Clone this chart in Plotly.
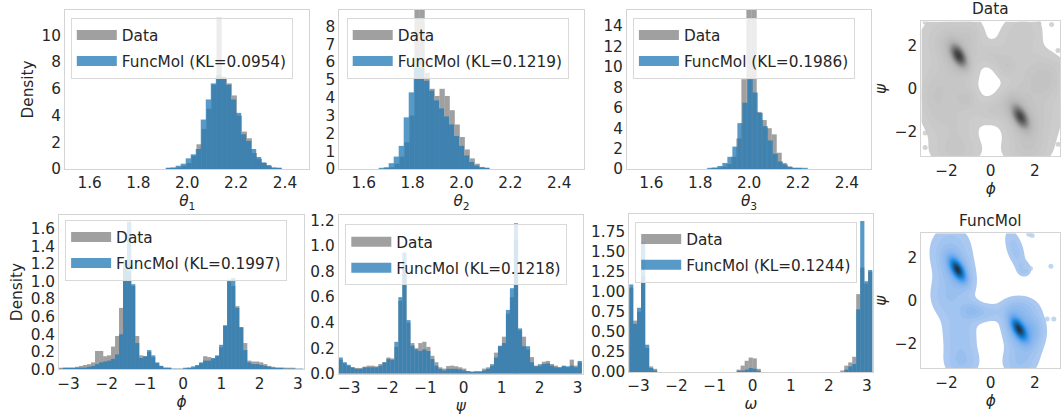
import numpy as np
import plotly.graph_objects as go

W, H = 1061, 416
FONT = "DejaVu Sans"
FS = 15.3
TXT = "#262626"
FRAME = "#d4d4d4"
GRAY = "rgb(128,128,128)"
BLUE = "rgb(31,119,180)"
ALPHA = 0.75

# ---------------- bond-angle histograms (top row) ----------------
# theta_1
t1_data_start, t1_func_start, t1_width = 1.9149, 1.9121, 0.02053
t1_data = [0.03, 0.06, 0.12, 0.25, 0.45, 1.0, 1.85, 3.0, 4.5, 6.3, 11.3, 6.8,
           6.4, 5.5, 4.0, 2.8, 2.3, 1.2, 0.75, 0.45, 0.22, 0.1, 0.04]
t1_func = [0.05, 0.12, 0.25, 0.4, 0.8, 1.1, 1.5, 3.7, 5.2, 6.4, 7.0, 6.9,
           6.3, 5.2, 4.2, 2.6, 2.1, 1.5, 0.9, 0.5, 0.3, 0.12, 0.05]
# theta_2
t2_data_start, t2_func_start, t2_width = 1.6645, 1.6615, 0.0205
t2_data = [0.01, 0.03, 0.1, 0.3, 0.7, 1.5, 3.0, 9.5, 9.2, 5.4, 4.5, 4.1,
           4.5, 4.1, 3.3, 2.5, 1.8, 1.1, 0.6, 0.3, 0.12, 0.05]
t2_func = [0.03, 0.1, 0.33, 0.7, 1.3, 2.9, 4.3, 5.67, 5.67, 4.95, 4.4, 3.85,
           3.4, 2.95, 2.5, 1.85, 1.3, 0.76, 0.4, 0.2, 0.09, 0.04]
# theta_3
t3_data_start, t3_func_start, t3_width = 1.8256, 1.8297, 0.0205
t3_data = [0.02, 0.05, 0.1, 0.25, 0.5, 1.2, 3.0, 8.8, 16.0, 16.0, 5.6, 4.8,
           4.0, 3.4, 1.6, 0.6, 0.25, 0.1, 0.04]
t3_func = [0.05, 0.15, 0.3, 0.6, 1.2, 2.2, 4.5, 6.5, 8.8, 7.5, 5.5, 4.2,
           2.8, 1.5, 0.75, 0.45, 0.22, 0.12, 0.06, 0.03]

# ---------------- torsion histograms (bottom row) ----------------
tor_width = 0.1047
phi_start = -3.245
phi_data = [0.01, 0.01, 0.015, 0.02, 0.03, 0.04, 0.05, 0.06, 0.08, 0.21, 0.21, 0.15,
            0.16, 0.26, 0.38, 0.7, 1.24, 1.1, 0.95, 0.38, 0.16, 0.15, 0.2, 0.14,
            0.07, 0.04, 0.02, 0.01, 0.005, 0.003, 0.003, 0.005, 0.01, 0.02, 0.04, 0.07,
            0.15, 0.14, 0.12, 0.15, 0.25, 0.5, 1.0, 0.95, 0.72, 0.48, 0.3, 0.1,
            0.09, 0.09, 0.08, 0.06, 0.04, 0.03, 0.02, 0.015, 0.02, 0.015, 0.01, 0.005, 0.003]
phi_func = [0.005, 0.01, 0.01, 0.01, 0.015, 0.02, 0.02, 0.03, 0.04, 0.06, 0.08, 0.09,
            0.1, 0.12, 0.17, 0.4, 1.15, 1.68, 0.97, 0.3, 0.13, 0.15, 0.22, 0.16,
            0.08, 0.04, 0.02, 0.01, 0.005, 0.004, 0.004, 0.01, 0.02, 0.035, 0.05, 0.08,
            0.1, 0.1, 0.13, 0.16, 0.28, 0.5, 1.02, 1.04, 0.7, 0.48, 0.22, 0.08,
            0.06, 0.06, 0.05, 0.04, 0.03, 0.02, 0.01, 0.01, 0.005, 0.005, 0.003, 0.002, 0.001]
psi_start = -3.28
psi_data = [0.11, 0.08, 0.06, 0.05, 0.045, 0.045, 0.055, 0.063, 0.063, 0.058, 0.076, 0.09,
            0.127, 0.12, 0.21, 0.57, 0.85, 0.4, 0.24, 0.2, 0.24, 0.25, 0.21, 0.14,
            0.09, 0.05, 0.04, 0.06, 0.063, 0.058, 0.05, 0.04, 0.02, 0.013, 0.018, 0.018,
            0.04, 0.05, 0.076, 0.165, 0.22, 0.29, 0.47, 0.6, 1.05, 0.34, 0.29, 0.19,
            0.13, 0.063, 0.076, 0.094, 0.1, 0.076, 0.063, 0.05, 0.058, 0.05, 0.11, 0.063, 0.089]
psi_func = [0.127, 0.09, 0.07, 0.05, 0.038, 0.038, 0.05, 0.05, 0.05, 0.05, 0.063, 0.089,
            0.114, 0.108, 0.25, 0.6, 0.95, 0.42, 0.22, 0.19, 0.178, 0.19, 0.178, 0.114,
            0.063, 0.038, 0.025, 0.038, 0.038, 0.038, 0.033, 0.025, 0.02, 0.013, 0.018, 0.018,
            0.025, 0.038, 0.063, 0.127, 0.215, 0.24, 0.5, 0.67, 1.18, 0.355, 0.215, 0.215,
            0.089, 0.058, 0.063, 0.076, 0.08, 0.063, 0.05, 0.05, 0.063, 0.058, 0.063, 0.05, 0.1]
omega_start = -3.245
omega_data = [1.05, 0.64, 0.75, 1.2, 0.3, 0.07, 0.04, 0, 0, 0, 0, 0,
              0, 0, 0, 0, 0, 0, 0, 0, 0, 0, 0, 0,
              0, 0, 0, 0.03, 0.08, 0.14, 0.18, 0.17, 0.04, 0, 0, 0,
              0, 0, 0, 0, 0, 0, 0, 0, 0, 0, 0, 0,
              0, 0, 0, 0, 0, 0.02, 0.08, 0.12, 0.19, 0.97, 1.3, 1.1, 1.25]
omega_func = [1.09, 0.6, 0.8, 1.62, 0.34, 0.05, 0.02, 0, 0, 0, 0, 0,
              0, 0, 0, 0, 0, 0, 0, 0, 0, 0, 0, 0,
              0, 0, 0, 0.005, 0.01, 0.03, 0.05, 0.04, 0.01, 0, 0, 0,
              0, 0, 0, 0, 0, 0, 0, 0, 0, 0, 0, 0,
              0, 0, 0, 0, 0, 0, 0.03, 0.07, 0.1, 0.78, 1.88, 1.13, 1.27]

kl_values = ["0.0954", "0.1219", "0.1986", "0.1997", "0.1218", "0.1244"]

# ---------------- Ramachandran density (phi, psi) ----------------
# blob centre, spread, correlation and peak height
data_blob_phi = [-1.45, 1.35, -1.50, 1.35, -2.00, -0.90, -2.10, -1.60, -1.60, -2.60,
                 -1.10, 0.00, 1.90, 1.60, 2.00, 2.60, 0.90, 0.70, 1.35, 0.00]
data_blob_psi = [1.55, -1.30, 1.50, -1.30, 2.20, 2.50, 0.20, -1.60, -2.90, -0.80,
                 -0.45, -1.00, -1.50, -2.90, 0.40, 0.60, -0.60, 1.05, 2.50, 1.60]
data_blob_sphi = [0.25, 0.25, 0.50, 0.50, 0.90, 0.40, 0.80, 0.70, 0.80, 0.50,
                  0.35, 0.50, 0.90, 0.70, 0.80, 0.60, 0.40, 0.35, 0.70, 0.45]
data_blob_spsi = [0.35, 0.35, 0.70, 0.70, 0.90, 0.60, 0.70, 0.80, 0.50, 0.80,
                  0.35, 0.40, 0.90, 0.50, 0.80, 0.70, 0.40, 0.35, 0.80, 0.35]
data_blob_rho = [-0.5, -0.5, -0.4, -0.4, 0.0, 0.0, 0.0, 0.0, 0.0, 0.0,
                 0.0, 0.0, 0.0, 0.0, 0.0, 0.0, 0.0, 0.0, 0.2, 0.0]
data_blob_amp = [1.0, 0.9, 0.2, 0.2, 0.13, 0.10, 0.12, 0.12, 0.12, 0.10,
                 0.12, 0.11, 0.13, 0.12, 0.12, 0.10, 0.10, 0.12, 0.13, 0.10]

func_blob_phi = [-1.50, 1.28, -1.50, 1.30, -1.80, -1.90, -1.40, -1.30, -0.30, -0.90,
                 1.50, 1.30, 1.30, 1.95, 1.10, 1.55]
func_blob_psi = [1.45, -1.32, 1.40, -1.30, 2.30, 0.20, -1.60, -2.90, -0.55, -0.45,
                 -1.50, -2.90, -0.30, -1.30, 2.40, 1.45]
func_blob_sphi = [0.22, 0.22, 0.45, 0.45, 0.70, 0.60, 0.55, 0.55, 0.50, 0.30,
                  0.60, 0.55, 0.55, 0.35, 0.35, 0.22]
func_blob_spsi = [0.32, 0.32, 0.60, 0.60, 0.90, 0.70, 0.80, 0.50, 0.30, 0.30,
                  0.80, 0.50, 0.35, 0.50, 0.70, 0.22]
func_blob_rho = [-0.6, -0.6, -0.4, -0.4, 0.0, 0.0, 0.0, 0.0, 0.0, 0.0,
                 0.0, 0.0, 0.0, 0.0, -0.5, 0.0]
func_blob_amp = [1.0, 0.95, 0.22, 0.22, 0.12, 0.12, 0.12, 0.11, 0.11, 0.10,
                 0.12, 0.11, 0.11, 0.10, 0.11, 0.09]

data_pts_phi = [-2.97, 2.18, 2.76, 3.05, 2.87, 3.02, -2.97, -2.97, 3.06]
data_pts_psi = [3.10, 3.06, 3.00, 1.79, 1.17, 1.17, -2.05, -2.73, -2.58]
func_pts_phi = [1.73, 1.88, 1.58, 1.80, 2.73, 2.56, 2.86]
func_pts_psi = [3.09, 3.03, 1.58, 1.50, 1.60, -0.85, -0.85]

gray_ramp = [[0.0, "rgb(204,204,204)"], [0.3, "rgb(178,178,178)"],
             [0.6, "rgb(128,128,128)"], [1.0, "rgb(62,62,62)"]]
blue_ramp = [[0.0, "rgb(170,200,240)"], [0.3, "rgb(95,162,236)"],
             [0.5, "rgb(25,140,230)"], [0.75, "rgb(25,98,158)"],
             [1.0, "rgb(35,52,70)"]]

# ---------------- layout geometry (pixels: left, right, top, bottom) ----------------
boxes = {
    1: (63.3, 308.3, 7, 171),
    2: (338.3, 583.3, 7, 171),
    3: (626.7, 871.7, 7, 171),
    4: (922, 1061, 19, 158),
    5: (57.3, 302.7, 218, 377.3),
    6: (337.7, 582.7, 218, 381.7),
    7: (629, 873.3, 217, 380),
    8: (922, 1061, 237, 376),
}


def px(x):
    return x / W


def py(y):
    return 1 - y / H


fig = go.Figure()


def centers(start, width, n):
    return [start + (i + 0.5) * width for i in range(n)]


hist_panels = [
    (1, t1_data_start, t1_data, t1_func_start, t1_func, t1_width),
    (2, t2_data_start, t2_data, t2_func_start, t2_func, t2_width),
    (3, t3_data_start, t3_data, t3_func_start, t3_func, t3_width),
    (5, phi_start, phi_data, phi_start, phi_func, tor_width),
    (6, psi_start, psi_data, psi_start, psi_func, tor_width),
    (7, omega_start, omega_data, omega_start, omega_func, tor_width),
]
legend_pos = {1: (69, 15), 2: (345.7, 15), 3: (632.7, 15),
              5: (63.3, 223), 6: (344.3, 228), 7: (635, 225)}

for k, (ax, ds, dv, fs, fv, w) in enumerate(hist_panels):
    xa = "x" if ax == 1 else f"x{ax}"
    ya = "y" if ax == 1 else f"y{ax}"
    lg = "legend" if k == 0 else f"legend{k + 1}"
    # bars slightly widened so neighbouring bins meet without seams
    fig.add_trace(go.Bar(x=centers(ds, w, len(dv)), y=dv, width=w * 1.06,
                         marker=dict(color=GRAY, line=dict(width=0)), opacity=ALPHA,
                         xaxis=xa, yaxis=ya, showlegend=False, hoverinfo="skip"))
    fig.add_trace(go.Bar(x=centers(fs, w, len(fv)), y=fv, width=w * 1.06,
                         marker=dict(color=BLUE, line=dict(width=0)), opacity=ALPHA,
                         xaxis=xa, yaxis=ya, showlegend=False, hoverinfo="skip"))
    # legend swatches
    fig.add_trace(go.Scatter(x=[None], y=[None], mode="lines", name="Data",
                             line=dict(color=GRAY, width=12), opacity=ALPHA,
                             legendgroup=f"d{k}", xaxis=xa, yaxis=ya, legend=lg))
    fig.add_trace(go.Scatter(x=[None], y=[None], mode="lines",
                             name=f"FuncMol (KL={kl_values[k]})",
                             line=dict(color=BLUE, width=12), opacity=ALPHA,
                             legendgroup=f"f{k}", xaxis=xa, yaxis=ya, legend=lg))
    lx, ly = legend_pos[ax]
    fig.update_layout({lg: dict(x=px(lx), y=py(ly), xanchor="left", yanchor="top",
                                bgcolor="rgba(255,255,255,0.8)", bordercolor="#d9d9d9",
                                borderwidth=1, font=dict(family=FONT, size=FS, color=TXT),
                                tracegroupgap=3, itemwidth=40)})

# ---------------- density panels ----------------
grid = np.linspace(-np.pi, np.pi, 181)
PP, SS = np.meshgrid(grid, grid)


def density(mx, my, sx, sy, rho, amp):
    z = np.zeros_like(PP)
    for a, b, c, d, r, q in zip(mx, my, sx, sy, rho, amp):
        u = (PP - a) / c
        v = (SS - b) / d
        z += q * np.exp(-(u * u - 2 * r * u * v + v * v) / (2 * (1 - r * r)))
    return z


nlev = 30
floor = 0.05


def band_scale(ramp):
    scale = [[0, "rgba(255,255,255,0)"]]
    for p, c in ramp:
        scale.append([1 / nlev + p * (1 - 1 / nlev), c])
    return scale


for ax, zz, ramp, ptsx, ptsy, dot in [
    (4, density(data_blob_phi, data_blob_psi, data_blob_sphi, data_blob_spsi,
                data_blob_rho, data_blob_amp), gray_ramp, data_pts_phi, data_pts_psi,
     "rgba(200,200,200,0.8)"),
    (8, density(func_blob_phi, func_blob_psi, func_blob_sphi, func_blob_spsi,
                func_blob_rho, func_blob_amp), blue_ramp, func_pts_phi, func_pts_psi,
     "rgba(175,205,235,0.8)"),
]:
    top = zz.max()
    size = (top - floor) / nlev
    fig.add_trace(go.Scatter(x=ptsx, y=ptsy, mode="markers",
                             marker=dict(color=dot, size=5), showlegend=False,
                             xaxis=f"x{ax}", yaxis=f"y{ax}", hoverinfo="skip"))
    fig.add_trace(go.Contour(x=grid, y=grid, z=zz,
                             contours=dict(coloring="fill", start=floor,
                                           end=floor + (nlev - 0.5) * size, size=size),
                             line=dict(width=0), colorscale=band_scale(ramp),
                             showscale=False, xaxis=f"x{ax}", yaxis=f"y{ax}",
                             hoverinfo="skip"))

# ---------------- axes ----------------
axis_common = dict(showgrid=False, zeroline=False, showline=True, mirror=True,
                   linecolor=FRAME, linewidth=1, ticks="",
                   tickfont=dict(family=FONT, size=FS, color=TXT),
                   title_font=dict(family=FONT, size=FS, color=TXT))

xcfg = {
    1: dict(range=[1.5, 2.5], tickvals=[1.6, 1.8, 2.0, 2.2, 2.4], tickformat=".1f",
            title_text="<i>θ</i><sub>1</sub>"),
    2: dict(range=[1.5, 2.5], tickvals=[1.6, 1.8, 2.0, 2.2, 2.4], tickformat=".1f",
            title_text="<i>θ</i><sub>2</sub>"),
    3: dict(range=[1.5, 2.5], tickvals=[1.6, 1.8, 2.0, 2.2, 2.4], tickformat=".1f",
            title_text="<i>θ</i><sub>3</sub>"),
    4: dict(range=[-np.pi, np.pi], tickvals=[-2, 0, 2], title_text="<i>ϕ</i>"),
    5: dict(range=[-3.245, 3.157], tickvals=[-3, -2, -1, 0, 1, 2, 3], title_text="<i>ϕ</i>"),
    6: dict(range=[-3.278, 3.141], tickvals=[-3, -2, -1, 0, 1, 2, 3], title_text="<i>ψ</i>"),
    7: dict(range=[-3.244, 3.157], tickvals=[-3, -2, -1, 0, 1, 2, 3], title_text="<i>ω</i>"),
    8: dict(range=[-np.pi, np.pi], tickvals=[-2, 0, 2], title_text="<i>ϕ</i>"),
}
ycfg = {
    1: dict(range=[0, 11.9], tickvals=[0, 2, 4, 6, 8, 10], title_text="Density"),
    2: dict(range=[0, 8.93], tickvals=list(range(0, 9))),
    3: dict(range=[0, 15.6], tickvals=list(range(0, 15, 2))),
    4: dict(range=[-np.pi, np.pi], tickvals=[-2, 0, 2], title_text="<i>ψ</i>"),
    5: dict(range=[0, 1.76], tickvals=[0, 0.2, 0.4, 0.6, 0.8, 1.0, 1.2, 1.4, 1.6],
            tickformat=".1f", title_text="Density"),
    6: dict(range=[0, 1.246], tickvals=[0, 0.2, 0.4, 0.6, 0.8, 1.0, 1.2], tickformat=".1f"),
    7: dict(range=[0, 1.97], tickvals=[0, 0.25, 0.5, 0.75, 1.0, 1.25, 1.5, 1.75],
            tickformat=".2f"),
    8: dict(range=[-np.pi, np.pi], tickvals=[-2, 0, 2], title_text="<i>ψ</i>"),
}

layout_axes = {}
for ax, (l, r, t, b) in boxes.items():
    xn = "xaxis" if ax == 1 else f"xaxis{ax}"
    yn = "yaxis" if ax == 1 else f"yaxis{ax}"
    ya = "y" if ax == 1 else f"y{ax}"
    xa = "x" if ax == 1 else f"x{ax}"
    layout_axes[xn] = dict(axis_common, domain=[px(l), min(px(r), 1.0)], anchor=ya,
                           title_standoff=2, **xcfg[ax])
    layout_axes[yn] = dict(axis_common, domain=[py(b), py(t)], anchor=xa,
                           title_standoff=4, **ycfg[ax])
fig.update_layout(**layout_axes)

# density panel titles
for ax, text in [(4, "Data"), (8, "FuncMol")]:
    fig.add_annotation(text=text, xref=f"x{ax} domain", yref=f"y{ax} domain",
                       x=0.5, y=1.0, xanchor="center", yanchor="bottom", yshift=1,
                       showarrow=False, font=dict(family=FONT, size=FS, color=TXT))

fig.update_layout(width=W, height=H, margin=dict(l=0, r=0, t=0, b=0),
                  paper_bgcolor="white", plot_bgcolor="white", barmode="overlay",
                  font=dict(family=FONT, size=FS, color=TXT))

fig.write_html("out.html")
